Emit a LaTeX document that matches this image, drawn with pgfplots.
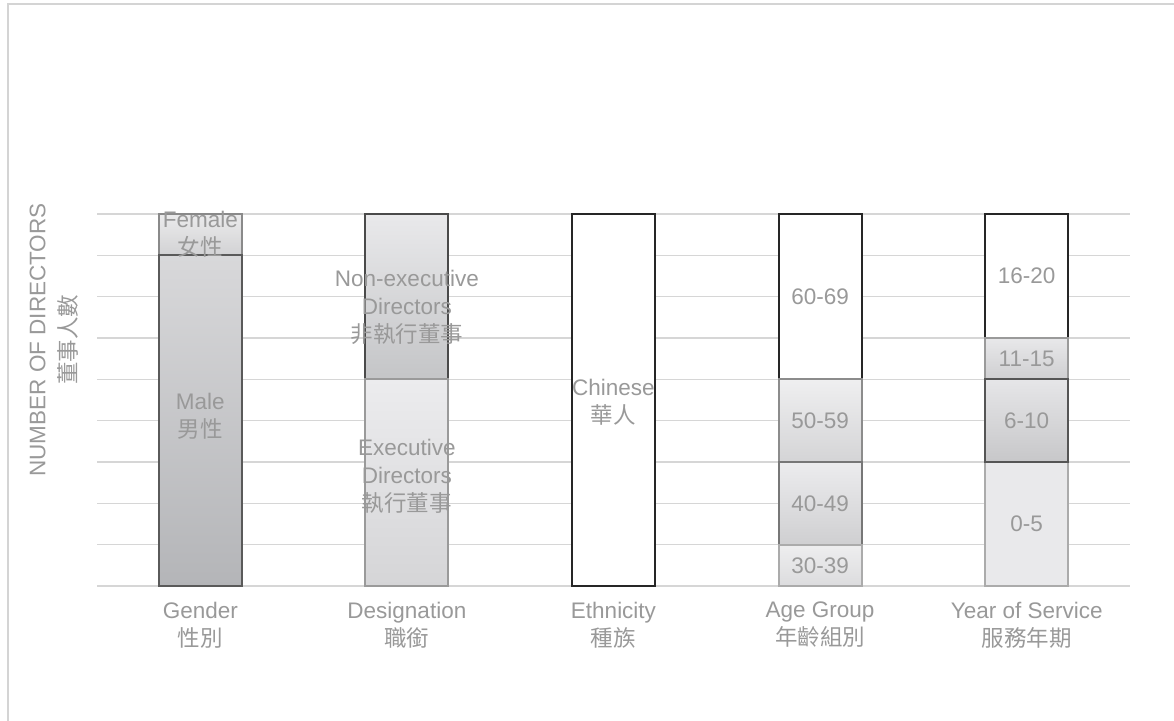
\documentclass[border=0pt]{standalone}
\usepackage{pgfplots}
\pgfplotsset{compat=1.18}
\usepackage{fontspec}
\setmainfont{Liberation Sans}
\newfontfamily\cjk{Noto Sans CJK TC}
\definecolor{txt}{HTML}{999999}
\definecolor{gridc}{HTML}{D6D6D6}
\definecolor{framec}{HTML}{D4D4D4}
\definecolor{maleT}{HTML}{D8D8DA}\definecolor{maleB}{HTML}{B4B5B8}\definecolor{maleD}{HTML}{5A5A5A}
\definecolor{femT}{HTML}{EBEBEC}\definecolor{femB}{HTML}{D2D2D4}\definecolor{femD}{HTML}{8A8A8A}
\definecolor{nonT}{HTML}{E9E9EB}\definecolor{nonB}{HTML}{C4C5C7}\definecolor{nonD}{HTML}{4A4A4A}
\definecolor{exT}{HTML}{ECECEE}\definecolor{exB}{HTML}{D5D5D7}\definecolor{exD}{HTML}{9A9A9A}
\definecolor{darkD}{HTML}{262626}
\definecolor{aFT}{HTML}{EFEFF0}\definecolor{aFB}{HTML}{D4D4D6}\definecolor{aFD}{HTML}{8C8C8C}
\definecolor{aQT}{HTML}{ECECEE}\definecolor{aQB}{HTML}{CFCFD1}\definecolor{aQD}{HTML}{777777}
\definecolor{aTT}{HTML}{EEEEEF}\definecolor{aTB}{HTML}{DCDCDE}\definecolor{aTD}{HTML}{ABABAB}
\definecolor{yET}{HTML}{E8E8EA}\definecolor{yEB}{HTML}{CFCFD1}\definecolor{yED}{HTML}{9A9A9A}
\definecolor{yST}{HTML}{E6E6E8}\definecolor{ySB}{HTML}{C7C7C9}\definecolor{ySD}{HTML}{555555}
\definecolor{yZ}{HTML}{E9E9EB}\definecolor{yZD}{HTML}{ABABAB}
\newcommand{\labfont}{\fontsize{22.5bp}{28bp}\selectfont}
\tikzset{lab/.style={align=center, text=txt, font=\labfont}}
\pgfplotsset{
  base/.style={
    scale only axis, width=1033bp, height=372bp,
    at={(97bp,135bp)}, anchor=south west,
    xmin=-0.5, xmax=4.5, ymin=0, ymax=9,
    ybar stacked, bar width=83bp,
    axis line style={draw=none},
    xtick=\empty, ytick=\empty, major tick length=0pt,
    clip=false,
  },
  seg/.style n args={3}{draw=#3, line width=2bp, top color=#1, bottom color=#2},
}
\begin{document}
\begin{tikzpicture}
\useasboundingbox (0,0) rectangle (1174bp,721bp);
\fill[white] (0,0) rectangle (1174bp,721bp);
\draw[framec, line width=2bp] (1174bp,717bp) -- (8bp,717bp) -- (8bp,0bp);
\node[rotate=90, align=center, text=txt, font={\fontsize{22.5bp}{31bp}\selectfont}] at (54bp,381bp) {NUMBER OF DIRECTORS\\{\cjk 董事人數}};
\begin{axis}[base,
  ymajorgrids, ytick={0,...,9}, yticklabels={},
  grid style={draw=gridc, line width=1.5bp},
  xtick={0,...,4},
  xticklabels={{Gender\\{\cjk 性別}},{Designation\\{\cjk 職銜}},{Ethnicity\\{\cjk 種族}},{Age Group\\{\cjk 年齡組別}},{Year of Service\\{\cjk 服務年期}}},
  xticklabel style={align=center, text=txt, font=\labfont, inner sep=0pt, yshift=-16bp},
]
\addplot[seg={maleT}{maleB}{maleD}] coordinates {(0,8)};
\addplot[seg={femT}{femB}{femD}] coordinates {(0,1)};
\end{axis}
\begin{axis}[base, hide axis]
\addplot[seg={exT}{exB}{exD}] coordinates {(1,5)};
\addplot[seg={nonT}{nonB}{nonD}] coordinates {(1,4)};
\end{axis}
\begin{axis}[base, hide axis]
\addplot[seg={white}{white}{darkD}] coordinates {(2,9)};
\end{axis}
\begin{axis}[base, hide axis]
\addplot[seg={aTT}{aTB}{aTD}] coordinates {(3,1)};
\addplot[seg={aQT}{aQB}{aQD}] coordinates {(3,2)};
\addplot[seg={aFT}{aFB}{aFD}] coordinates {(3,2)};
\addplot[seg={white}{white}{darkD}] coordinates {(3,4)};
\end{axis}
\begin{axis}[base, hide axis]
\addplot[seg={yZ}{yZ}{yZD}] coordinates {(4,3)};
\addplot[seg={yST}{ySB}{ySD}] coordinates {(4,2)};
\addplot[seg={yET}{yEB}{yED}] coordinates {(4,1)};
\addplot[seg={white}{white}{darkD}] coordinates {(4,3)};
\end{axis}
\begin{axis}[base, hide axis]
\addplot[draw=none, fill=none] coordinates {(4,3)};
\addplot[seg={yST}{ySB}{ySD}] coordinates {(4,2)};
\end{axis}
\begin{axis}[base, hide axis]
\addplot[seg={maleT}{maleB}{maleD}] coordinates {(0,8)};
\end{axis}
\begin{axis}[base, hide axis]
\node[lab] at (axis cs:0,8.5) {Female\\{\cjk 女性}};
\node[lab] at (axis cs:0,4.1) {Male\\{\cjk 男性}};
\node[lab] at (axis cs:1,6.75) {Non-executive\\Directors\\{\cjk 非執行董事}};
\node[lab] at (axis cs:1,2.65) {Executive\\Directors\\{\cjk 執行董事}};
\node[lab] at (axis cs:2,4.45) {Chinese\\{\cjk 華人}};
\node[lab] at (axis cs:3,7) {60-69};
\node[lab] at (axis cs:3,4) {50-59};
\node[lab] at (axis cs:3,2) {40-49};
\node[lab] at (axis cs:3,0.5) {30-39};
\node[lab] at (axis cs:4,7.5) {16-20};
\node[lab] at (axis cs:4,5.5) {11-15};
\node[lab] at (axis cs:4,4) {6-10};
\node[lab] at (axis cs:4,1.5) {0-5};
\end{axis}
\end{tikzpicture}
\end{document}
